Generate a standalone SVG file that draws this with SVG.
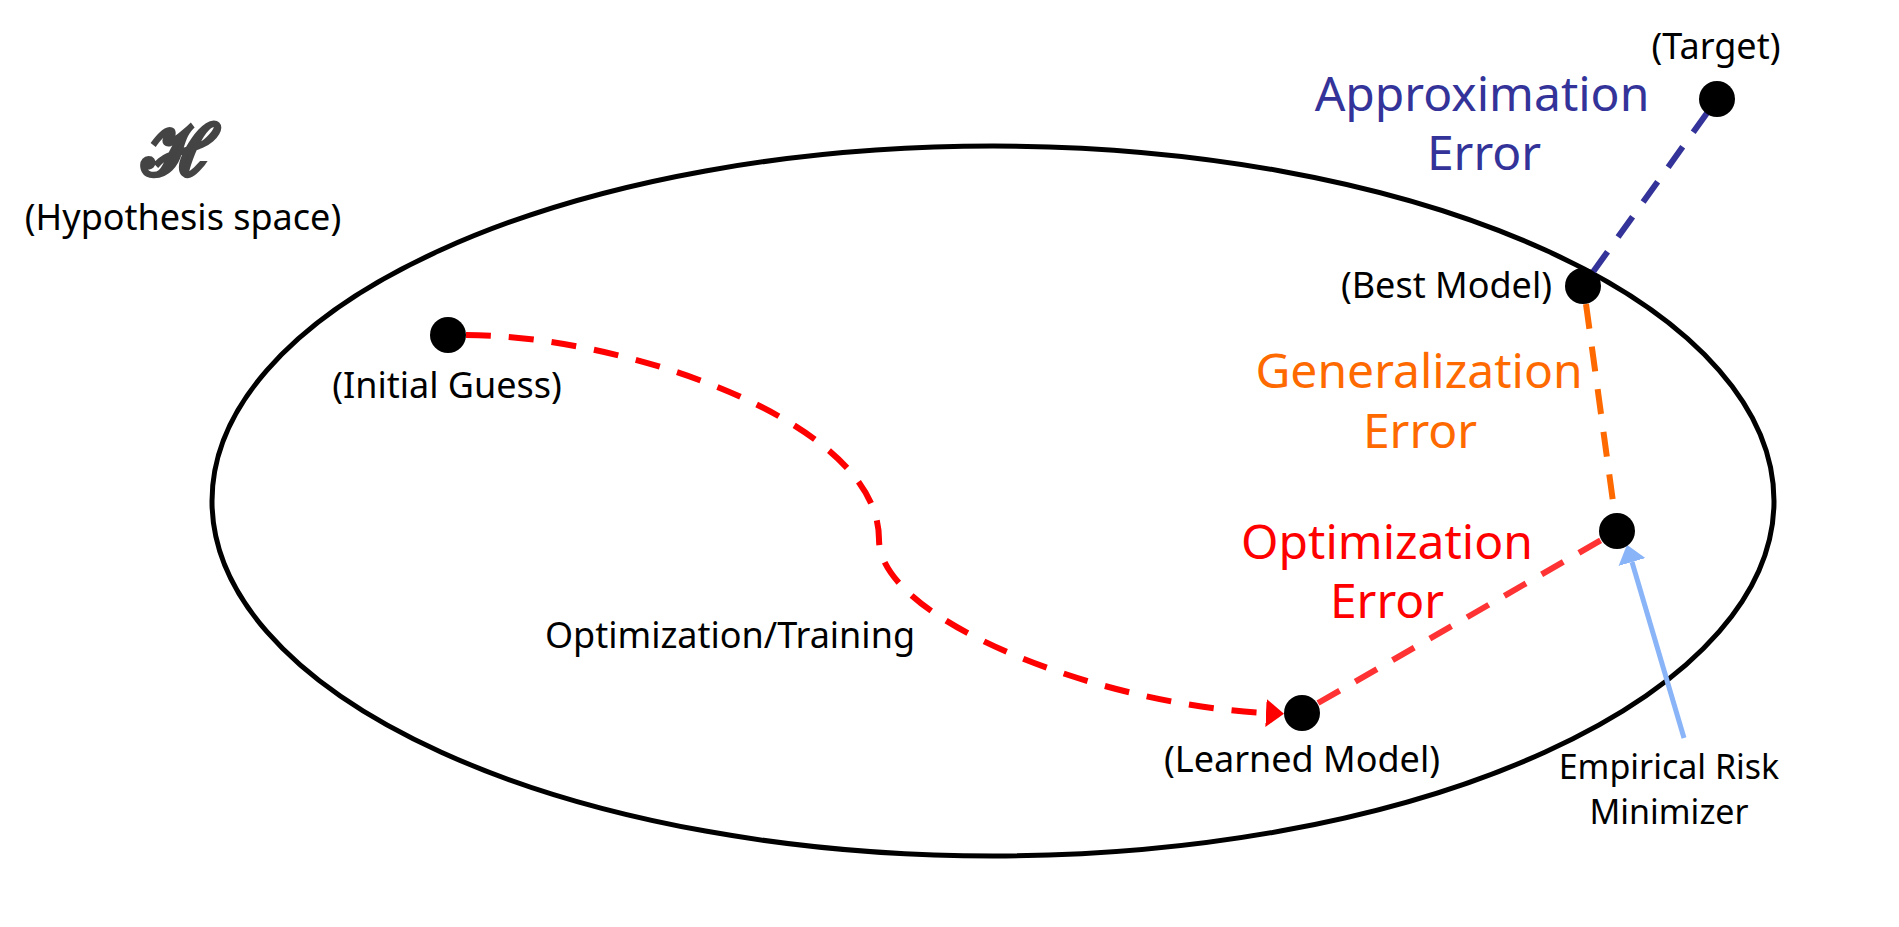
<svg xmlns="http://www.w3.org/2000/svg" width="1899" height="927" viewBox="0 0 1899 927">
  <style>
    .lbl { font-family: "Noto Sans", "Open Sans", sans-serif; font-size: 36px; fill: #000; text-anchor: middle; }
    .sm { font-size: 34px; }
    .big { font-family: "Noto Sans", "Open Sans", sans-serif; font-size: 48px; text-anchor: middle; }
    .dot { fill: #000; }
    .dash { fill: none; stroke-width: 6; stroke-dasharray: 25 18; }
  </style>
  <defs>
    <marker id="arrRed" viewBox="0 0 18 28" refX="0" refY="14" markerWidth="18" markerHeight="28" markerUnits="userSpaceOnUse" orient="auto">
      <path d="M0,0 L18,14 L0,28 Z" fill="#ff0000"/>
    </marker>
    <marker id="arrBlue" viewBox="0 0 18 28" refX="0" refY="14" markerWidth="18" markerHeight="28" markerUnits="userSpaceOnUse" orient="auto">
      <path d="M0,0 L18,14 L0,28 Z" fill="#8ab4f8"/>
    </marker>
  </defs>
  <rect width="1899" height="927" fill="#fff"/>

  <g id="hypothesis-space">
    <ellipse cx="993" cy="501" rx="781" ry="355" fill="none" stroke="#000" stroke-width="5"/>
    <text x="180" y="175" font-family="DejaVu Serif, serif" font-size="70" font-weight="bold" fill="#444" stroke="#444" stroke-width="3" text-anchor="middle">ℋ</text>
    <text class="lbl" x="183" y="230">(Hypothesis space)</text>
  </g>

  <g id="connectors">
    <path class="dash" stroke="#ff0000" d="M466,335 C620,335 880,420 879,540 C880,620 1100,705 1266,713" marker-end="url(#arrRed)"/>
    <line class="dash" stroke="#ff3333" x1="1318" y1="703" x2="1617" y2="531"/>
    <line class="dash" stroke="#ff6a00" x1="1586" y1="304" x2="1617" y2="531"/>
    <line class="dash" stroke="#333399" x1="1593" y1="272" x2="1717" y2="99"/>
    <line x1="1684" y1="738" x2="1632" y2="562" stroke="#8ab4f8" stroke-width="5" marker-end="url(#arrBlue)"/>
    <text class="lbl" x="730" y="648">Optimization/Training</text>
    <text class="big" fill="#333399" x="1482" y="111">Approximation</text>
    <text class="big" fill="#333399" x="1484" y="170">Error</text>
    <text class="big" fill="#ff6a00" x="1419" y="388">Generalization</text>
    <text class="big" fill="#ff6a00" x="1420" y="448">Error</text>
    <text class="big" fill="#ff0000" x="1387" y="559">Optimization</text>
    <text class="big" fill="#ff0000" x="1387" y="618">Error</text>
  </g>

  <g id="initial-guess">
    <circle class="dot" cx="448" cy="335" r="18"/>
    <text class="lbl" x="447" y="398">(Initial Guess)</text>
  </g>
  <g id="learned-model">
    <circle class="dot" cx="1302" cy="713" r="18"/>
    <text class="lbl" x="1302" y="772">(Learned Model)</text>
  </g>
  <g id="empirical-risk-minimizer">
    <circle class="dot" cx="1617" cy="531" r="18"/>
    <text class="lbl sm" x="1669" y="779">Empirical Risk</text>
    <text class="lbl sm" x="1669" y="824">Minimizer</text>
  </g>
  <g id="best-model">
    <circle class="dot" cx="1583" cy="286" r="18"/>
    <text class="lbl" x="1552" y="298" style="text-anchor:end">(Best Model)</text>
  </g>
  <g id="target">
    <circle class="dot" cx="1717" cy="99" r="18"/>
    <text class="lbl" x="1716" y="59">(Target)</text>
  </g>
</svg>
